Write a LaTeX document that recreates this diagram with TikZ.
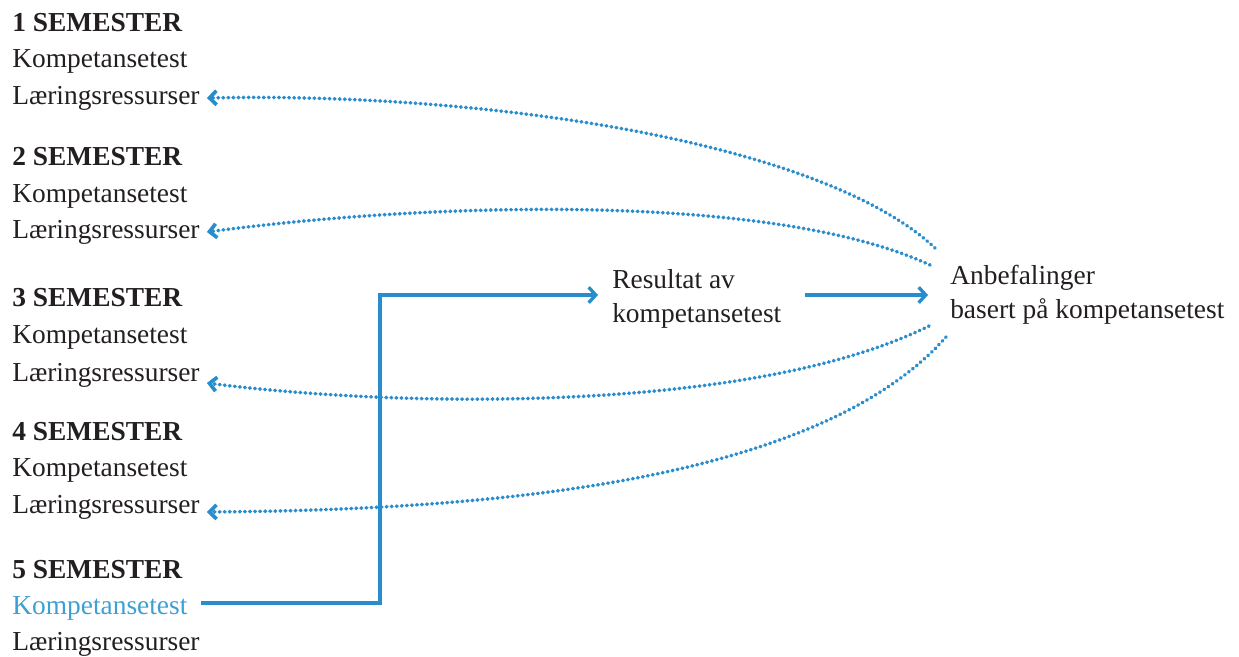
\documentclass[tikz,border=0pt]{standalone}
\usepackage{fontspec}
\setmainfont{Liberation Serif}
\usetikzlibrary{arrows.meta,calc}
\definecolor{flowblue}{RGB}{41,140,204}
\definecolor{testblue}{RGB}{62,160,210}
\definecolor{ink}{RGB}{35,31,32}

\begin{document}
\begin{tikzpicture}[x=0.025cm, y=-0.025cm,
  every node/.style={inner sep=0pt, anchor=base west, text=ink,
    font=\fontsize{19.5pt}{24pt}\selectfont},
  sem/.style={font=\fontsize{19.5pt}{24pt}\selectfont\bfseries},
  flow/.style={color=flowblue, line width=2.3pt,
    -{Straight Barb[length=5pt,width=11pt,line width=2.4pt]}},
  hint/.style={color=flowblue, line width=2.6pt, line cap=round,
    dash pattern=on 0.4pt off 3.2pt,
    -{Straight Barb[length=5pt,width=10pt,line width=2.6pt]}}]
\useasboundingbox (0,0) rectangle (1239,657);

% semesters
\node[sem] (sem1) at (12, 32) {1 SEMESTER};
\node (komp1) at (12, 68) {Kompetansetest};
\node (lr1) at (12, 105) {Læringsressurser};
\node[sem] (sem2) at (12, 166) {2 SEMESTER};
\node (komp2) at (12, 202) {Kompetansetest};
\node (lr2) at (12, 238) {Læringsressurser};
\node[sem] (sem3) at (12, 306) {3 SEMESTER};
\node (komp3) at (12, 343) {Kompetansetest};
\node (lr3) at (12, 381) {Læringsressurser};
\node[sem] (sem4) at (12, 440) {4 SEMESTER};
\node (komp4) at (12, 476) {Kompetansetest};
\node (lr4) at (12, 513) {Læringsressurser};
\node[sem] (sem5) at (12, 578) {5 SEMESTER};
\node[text=testblue] (komp5) at (12, 614) {Kompetansetest};
\node (lr5) at (12, 650) {Læringsressurser};

% base anchor sits on the last line here
\node[align=left] (res) at (612, 322) {Resultat av\\kompetansetest};
\node[align=left] (anb) at (950, 318) {Anbefalinger\\basert på kompetansetest};

% test result -> recommendation
\coordinate (turn) at (380, 295);
\draw[flow] ($(komp5.base east)+(13,-11)$) -| (turn) -- ($(res.base west)+(-14,-27)$);
\draw[flow] ($(res.base west)+(193,-27)$) -- ($(anb.base west)+(-22,-23)$);

% recommendations back to the learning resources
\draw[hint] ($(anb.base west)+(-15,-70)$) .. controls (820,140) and (480,92) .. ($(lr1.base east)+(7,-7)$);
\draw[hint] ($(anb.base west)+(-20,-53)$) .. controls (780,195) and (450,200) .. ($(lr2.base east)+(7,-6)$);
\draw[hint] ($(anb.base west)+(-21,8)$) .. controls (760,410) and (420,410) .. ($(lr3.base east)+(7,2)$);
\draw[hint] ($(anb.base west)+(-4,19)$) .. controls (820,480) and (500,510) .. ($(lr4.base east)+(7,-1)$);
\end{tikzpicture}
\end{document}
